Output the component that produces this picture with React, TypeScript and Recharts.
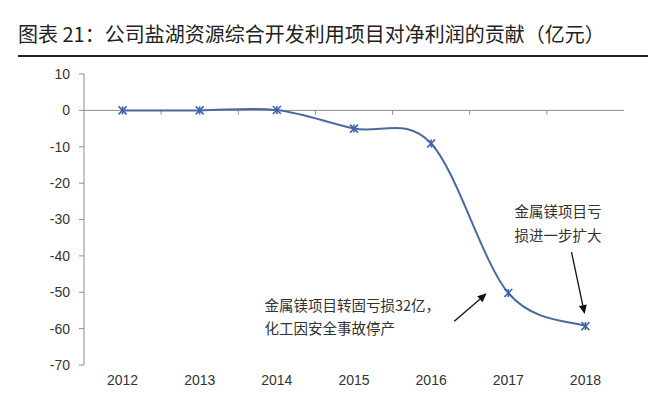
import React from 'react';
import { LineChart, Line, XAxis, YAxis, ReferenceLine, ReferenceDot } from 'recharts';

const years = [2012, 2013, 2014, 2015, 2016, 2017, 2018];
const contribution = [0, 0, 0.1, -5.0, -9.1, -50.2, -59.3];
const yTicks = [10, 0, -10, -20, -30, -40, -50, -60, -70];
const dividerTicks = [2012.5, 2013.5, 2014.5, 2015.5, 2016.5, 2017.5];

const note1 = ['金属镁项目转固亏损32亿，', '化工因安全事故停产'];
const note2 = ['金属镁项目亏', '损进一步扩大'];

const data = years.map((y, i) => ({ year: y, value: contribution[i] }));

// Excel-like smooth curve (Catmull-Rom style Bezier)
function excelCurve(context: any) {
  let pts: [number, number][] = [];
  return {
    areaStart() {},
    areaEnd() {},
    lineStart() { pts = []; },
    point(x: number, y: number) { pts.push([+x, +y]); },
    lineEnd() {
      const n = pts.length;
      if (!n) return;
      context.moveTo(pts[0][0], pts[0][1]);
      for (let i = 0; i < n - 1; i++) {
        const p0 = pts[Math.max(0, i - 1)];
        const p1 = pts[i];
        const p2 = pts[i + 1];
        const p3 = pts[Math.min(n - 1, i + 2)];
        const c1x = p1[0] + (p2[0] - p0[0]) / 6;
        const c1y = p1[1] + (p2[1] - p0[1]) / 6;
        const c2x = p2[0] - (p3[0] - p1[0]) / 6;
        const c2y = p2[1] - (p3[1] - p1[1]) / 6;
        context.bezierCurveTo(c1x, c1y, c2x, c2y, p2[0], p2[1]);
      }
    },
  };
}

const StarDot = (props: any) => {
  const { cx, cy } = props;
  if (cx == null || cy == null) return null;
  const s = 4;
  return (
    <g stroke="#3d63ad" strokeWidth={1.6}>
      <line x1={cx - s} y1={cy - s} x2={cx + s} y2={cy + s} />
      <line x1={cx - s} y1={cy + s} x2={cx + s} y2={cy - s} />
      <line x1={cx} y1={cy - s} x2={cx} y2={cy + s} />
    </g>
  );
};

const Arrow = (props: any) => {
  const { x1, y1, x2, y2 } = props;
  if ([x1, y1, x2, y2].some((v) => v == null || isNaN(v))) return null;
  const ang = Math.atan2(y2 - y1, x2 - x1);
  const L = 9;
  const W = 4;
  const bx = x2 - L * Math.cos(ang);
  const by = y2 - L * Math.sin(ang);
  const px = -Math.sin(ang) * W;
  const py = Math.cos(ang) * W;
  return (
    <g>
      <line x1={x1} y1={y1} x2={bx} y2={by} stroke="#111" strokeWidth={1.3} />
      <polygon points={`${x2},${y2} ${bx + px},${by + py} ${bx - px},${by - py}`} fill="#111" />
    </g>
  );
};

const Tick = (props: any) => {
  const { x1, y1, x2, y2 } = props;
  if ([x1, y1, x2, y2].some((v) => v == null || isNaN(v))) return null;
  return <line x1={x1} y1={y1} x2={x2} y2={y2} stroke="#8c8c8c" strokeWidth={1} />;
};

const makeNote = (lines: string[], lh: number) => (props: any) => {
  const { cx, cy } = props;
  if (cx == null || cy == null) return null;
  return (
    <text x={cx} y={cy} fontSize={14.5} fill="#333" fontFamily="'Noto Sans CJK SC', sans-serif">
      {lines.map((t, i) => (
        <tspan key={i} x={cx} y={cy + i * lh}>{t}</tspan>
      ))}
    </text>
  );
};

const tickFont = { fontSize: 14, fill: '#333', fontFamily: "'Liberation Sans', Arial, sans-serif" };

export default function App() {
  return (
    <div style={{ position: 'absolute', left: 0, top: 0, width: 662, height: 397, background: '#fff' }}>
      <div
        style={{
          position: 'absolute',
          left: 18,
          top: 21,
          fontSize: 20,
          fontFamily: "'Noto Sans CJK SC', sans-serif",
          color: '#222',
          whiteSpace: 'nowrap',
          lineHeight: '26px',
        }}
      >
        图表 21：公司盐湖资源综合开发利用项目对净利润的贡献（亿元）
      </div>
      <div style={{ position: 'absolute', left: 18, top: 55, width: 630, height: 2, background: '#222' }} />
      <div style={{ position: 'absolute', left: 0, top: 0 }}>
        <LineChart width={662} height={397} data={data} margin={{ top: 74, right: 38, bottom: 0, left: 0 }}>
          <XAxis
            dataKey="year"
            type="number"
            domain={[2011.5, 2018.5]}
            ticks={years}
            axisLine={false}
            tickLine={false}
            height={32}
            tickMargin={4}
            tick={tickFont}
            interval={0}
          />
          <YAxis
            type="number"
            domain={[-70, 10]}
            ticks={yTicks}
            width={84}
            interval={0}
            axisLine={{ stroke: '#8c8c8c' }}
            tickLine={{ stroke: '#8c8c8c' }}
            tickSize={5}
            tickMargin={9}
            tick={tickFont}
          />
          <ReferenceLine y={0} stroke="#8c8c8c" strokeWidth={1} />
          {dividerTicks.map((t) => (
            <ReferenceLine
              key={t}
              segment={[{ x: t, y: 0 }, { x: t, y: -1.2 }]}
              shape={Tick}
            />
          ))}
          <Line
            dataKey="value"
            type={excelCurve as any}
            stroke="#4a6a9f"
            strokeWidth={2}
            dot={<StarDot />}
            activeDot={false}
            isAnimationActive={false}
          />
          <ReferenceLine segment={[{ x: 2016.3, y: -58 }, { x: 2016.72, y: -50.3 }]} shape={Arrow} />
          <ReferenceLine segment={[{ x: 2017.82, y: -39 }, { x: 2017.99, y: -56 }]} shape={Arrow} />
          <ReferenceDot x={2013.84} y={-55.2} r={0} shape={makeNote(note1, 23)} />
          <ReferenceDot x={2017.08} y={-29.4} r={0} shape={makeNote(note2, 24)} />
        </LineChart>
      </div>
    </div>
  );
}
